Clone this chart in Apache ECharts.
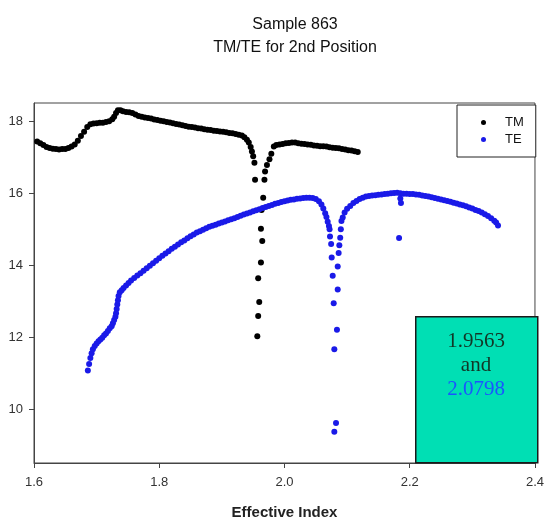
<!DOCTYPE html>
<html><head><meta charset="utf-8">
<script src="https://cdn.jsdelivr.net/npm/echarts@6/dist/echarts.min.js"></script>
<style>html,body{margin:0;padding:0;background:#fff}#c{width:547px;height:525px}</style>
</head><body><div id="c"></div>
<script>
const titleLines = ['Sample 863', 'TM/TE for 2nd Position'];
const xAxisName = 'Effective Index';
const yTicks = [10, 12, 14, 16, 18];
const seriesNames = ['TM', 'TE'];
const annotationLines = ['1.9563', 'and', '2.0798'];

// TM: [effective index, value]
const tmPoints = [
 [1.605,17.43],[1.610,17.38],[1.615,17.33],[1.620,17.28],[1.625,17.25],[1.630,17.23],[1.635,17.22],[1.640,17.21],
 [1.645,17.22],[1.650,17.22],[1.655,17.25],[1.660,17.29],[1.665,17.35],[1.670,17.45],[1.675,17.58],[1.680,17.70],
 [1.685,17.83],[1.690,17.91],[1.695,17.93],[1.700,17.94],[1.705,17.95],[1.710,17.95],[1.715,17.97],[1.720,17.99],
 [1.725,18.05],[1.728,18.12],[1.731,18.22],[1.734,18.30],[1.738,18.30],[1.742,18.27],[1.747,18.25],[1.752,18.24],
 [1.757,18.22],[1.762,18.18],[1.767,18.14],[1.772,18.12],[1.777,18.10],[1.782,18.08],[1.787,18.07],[1.792,18.04],
 [1.797,18.03],[1.802,18.01],[1.807,17.99],[1.812,17.97],[1.817,17.96],[1.822,17.94],[1.827,17.92],[1.832,17.90],
 [1.837,17.88],[1.842,17.86],[1.847,17.84],[1.852,17.83],[1.857,17.82],[1.862,17.80],[1.867,17.79],[1.872,17.77],
 [1.877,17.76],[1.882,17.75],[1.887,17.73],[1.892,17.72],[1.897,17.71],[1.902,17.70],[1.907,17.69],[1.912,17.67],
 [1.917,17.66],[1.922,17.64],[1.927,17.62],[1.932,17.60],[1.936,17.55],[1.940,17.48],[1.943,17.40],[1.946,17.28],
 [1.948,17.15],[1.950,17.02],[1.952,16.84],[1.953,16.37],
 [1.966,15.87],[1.9634,15.53],[1.9624,15.01],[1.9645,14.67],[1.9624,14.07],[1.958,13.63],[1.9597,12.97],[1.958,12.58],[1.9566,12.02],
 [1.968,16.37],[1.969,16.60],[1.972,16.78],[1.976,16.94],[1.979,17.09],[1.983,17.29],
 [1.987,17.33],[1.992,17.35],[1.997,17.36],[2.002,17.38],[2.007,17.39],[2.012,17.40],[2.017,17.40],[2.022,17.38],
 [2.027,17.37],[2.032,17.36],[2.037,17.35],[2.042,17.34],[2.047,17.32],[2.052,17.31],[2.057,17.30],[2.062,17.30],
 [2.067,17.29],[2.072,17.27],[2.077,17.26],[2.082,17.25],[2.087,17.24],[2.092,17.22],[2.097,17.21],[2.102,17.19],
 [2.107,17.18],[2.112,17.16],[2.117,17.14]
];

// TE: [effective index, value]
const tePoints = [
 [1.686,11.07],[1.688,11.25],[1.690,11.42],[1.692,11.55],[1.694,11.66],[1.697,11.75],[1.700,11.82],[1.703,11.88],
 [1.706,11.93],[1.709,11.98],[1.712,12.05],[1.715,12.10],[1.718,12.17],[1.721,12.24],[1.724,12.30],[1.726,12.38],
 [1.728,12.47],[1.730,12.56],[1.731,12.66],[1.732,12.78],[1.733,12.90],[1.734,13.02],[1.735,13.14],[1.737,13.24],
 [1.740,13.30],[1.743,13.36],[1.747,13.43],[1.751,13.50],[1.755,13.57],[1.760,13.64],[1.765,13.71],[1.770,13.77],
 [1.775,13.84],[1.780,13.91],[1.785,13.98],[1.790,14.05],[1.795,14.12],[1.800,14.19],[1.805,14.26],[1.810,14.32],
 [1.815,14.38],[1.820,14.45],[1.825,14.51],[1.830,14.57],[1.835,14.63],[1.840,14.68],[1.845,14.74],[1.850,14.80],
 [1.855,14.85],[1.860,14.90],[1.865,14.94],[1.870,14.98],[1.875,15.02],[1.880,15.06],[1.885,15.09],[1.890,15.12],
 [1.895,15.15],[1.900,15.18],[1.905,15.21],[1.910,15.24],[1.915,15.27],[1.920,15.30],[1.925,15.33],[1.930,15.37],
 [1.935,15.40],[1.940,15.43],[1.945,15.46],[1.950,15.49],[1.955,15.52],[1.960,15.55],[1.965,15.58],[1.970,15.61],
 [1.975,15.64],[1.980,15.67],[1.985,15.70],[1.990,15.72],[1.995,15.75],[2.000,15.77],[2.005,15.79],[2.010,15.81],
 [2.015,15.82],[2.020,15.84],[2.025,15.85],[2.030,15.86],[2.035,15.87],[2.040,15.87],[2.045,15.86],[2.050,15.83],
 [2.055,15.77],[2.059,15.68],[2.062,15.57],[2.065,15.44],[2.067,15.33],[2.069,15.20],[2.071,15.08],
 [2.072,14.99],[2.0727,14.79],[2.0745,14.58],[2.0754,14.21],[2.077,13.70],[2.0786,12.94],[2.0796,11.66],[2.0796,9.37],
 [2.0823,9.61],[2.0838,12.20],[2.085,13.32],[2.085,13.96],[2.0865,14.33],[2.0876,14.55],[2.089,14.76],[2.090,14.99],[2.091,15.22],
 [2.093,15.32],[2.096,15.46],[2.100,15.56],[2.105,15.64],[2.110,15.72],[2.115,15.78],[2.120,15.83],[2.125,15.87],
 [2.130,15.90],[2.135,15.92],[2.140,15.93],[2.145,15.94],[2.150,15.95],[2.155,15.96],[2.160,15.97],[2.165,15.98],
 [2.170,15.99],[2.175,16.00],[2.180,16.01],[2.185,15.99],[2.185,15.85],[2.186,15.72],[2.183,14.75],
 [2.190,15.98],[2.195,15.98],[2.200,15.97],[2.205,15.97],[2.210,15.96],[2.215,15.95],[2.220,15.93],[2.225,15.92],
 [2.230,15.90],[2.235,15.88],[2.240,15.86],[2.245,15.84],[2.250,15.82],[2.255,15.80],[2.260,15.78],[2.265,15.76],
 [2.270,15.73],[2.275,15.71],[2.280,15.68],[2.285,15.66],[2.290,15.63],[2.295,15.60],[2.300,15.57],[2.305,15.53],
 [2.310,15.50],[2.315,15.46],[2.320,15.41],[2.325,15.36],[2.330,15.30],[2.335,15.23],[2.338,15.18],[2.341,15.10]
];

const sans = '"Liberation Sans", Arial, sans-serif';
const serif = '"Liberation Serif", "Times New Roman", serif';
const chart = echarts.init(document.getElementById('c'), null, {renderer: 'canvas'});
const option = {
  animation: false,
  backgroundColor: '#fff',
  title: {
    text: titleLines.join('\n'),
    left: 290, top: 8, textAlign: 'center',
    textStyle: {fontFamily: sans, fontSize: 16, fontWeight: 'normal', color: '#111', lineHeight: 23}
  },
  legend: {
    data: seriesNames,
    orient: 'vertical', left: 457, top: 105,
    padding: [11, 12, 11, 24], itemGap: 4, itemWidth: 5, itemHeight: 5,
    borderColor: '#222', borderWidth: 1, backgroundColor: '#fff',
    textStyle: {fontFamily: sans, fontSize: 13, color: '#111', padding: [0, 0, 0, 14]}
  },
  grid: {left: 34, right: 8, top: 103, bottom: 59, show: true, borderColor: '#444', borderWidth: 1, backgroundColor: 'transparent'},
  xAxis: {
    type: 'value', min: 1.6, max: 2.4, interval: 0.2,
    name: xAxisName, nameLocation: 'middle', nameGap: 42,
    nameTextStyle: {fontFamily: sans, fontSize: 15, fontWeight: 'bold', color: '#222'},
    axisLine: {show: true, lineStyle: {color: '#444', width: 1}},
    axisTick: {show: true, length: 5, lineStyle: {color: '#444'}},
    axisLabel: {fontFamily: sans, fontSize: 13, color: '#333', margin: 13, formatter: v => v.toFixed(1)},
    splitLine: {show: false}
  },
  yAxis: {
    type: 'value', min: 8.5, max: 18.5,
    axisLine: {show: true, lineStyle: {color: '#444', width: 1}},
    axisTick: {show: true, length: 5, customValues: yTicks, lineStyle: {color: '#444'}},
    axisLabel: {fontFamily: sans, fontSize: 13, color: '#333', margin: 11, customValues: yTicks},
    splitLine: {show: false}
  },
  series: [
    {name: seriesNames[0], type: 'scatter', data: tmPoints, symbol: 'circle', symbolSize: 6,
     itemStyle: {color: '#000', opacity: 1}},
    {name: seriesNames[1], type: 'scatter', data: tePoints, symbol: 'circle', symbolSize: 6,
     itemStyle: {color: '#1a1ae8', opacity: 1}}
  ],
  graphic: [
    {type: 'rect', left: 415, top: 316, shape: {width: 122, height: 146},
     style: {fill: '#00dfb4', stroke: '#1a1a1a', lineWidth: 1.5}, z: 10},
    {type: 'text', x: 476, y: 341, z: 11,
     style: {text: annotationLines[0], font: '21px ' + serif, fill: '#123626', align: 'center', verticalAlign: 'middle'}},
    {type: 'text', x: 476, y: 365, z: 11,
     style: {text: annotationLines[1], font: '21px ' + serif, fill: '#123626', align: 'center', verticalAlign: 'middle'}},
    {type: 'text', x: 476, y: 389, z: 11,
     style: {text: annotationLines[2], font: '21px ' + serif, fill: '#1a55ff', align: 'center', verticalAlign: 'middle'}}
  ]
};
chart.setOption(option);
</script></body></html>
